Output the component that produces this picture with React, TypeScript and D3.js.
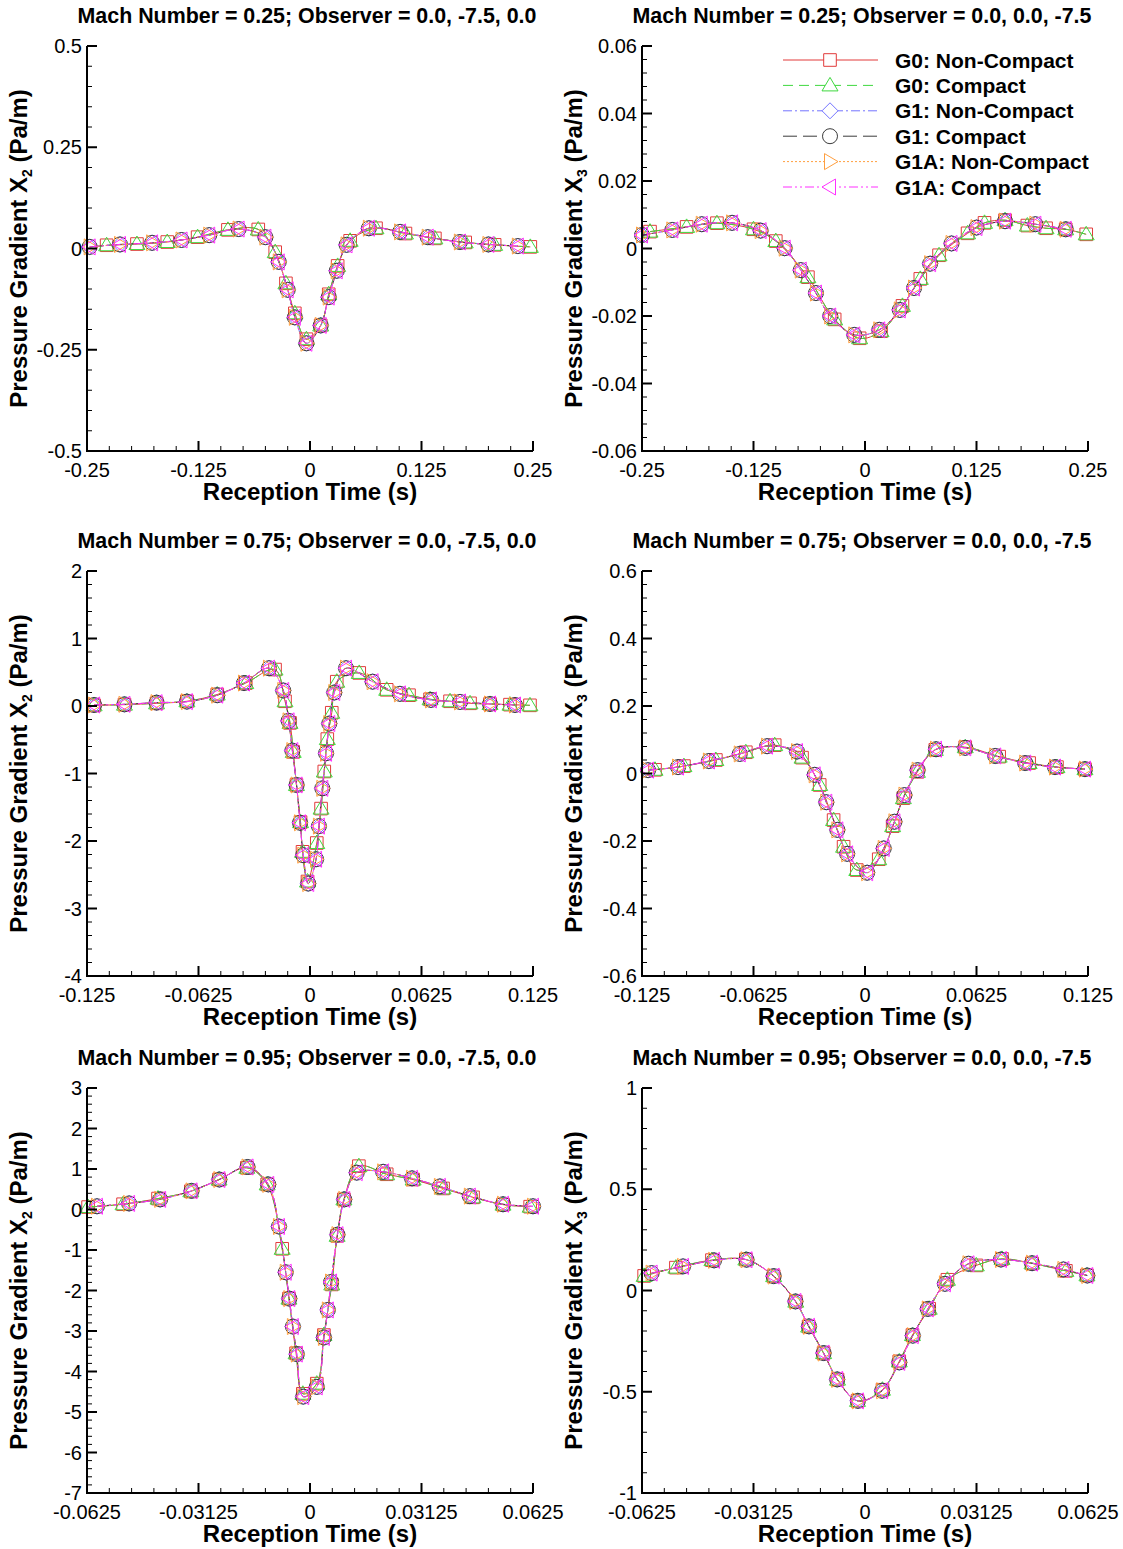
import React from 'react';
import * as d3 from 'd3';

const FONT = '"Liberation Sans", Arial, Helvetica, sans-serif';

// ---------- series styling ----------
const seriesNames = ['G0: Non-Compact', 'G0: Compact', 'G1: Non-Compact', 'G1: Compact', 'G1A: Non-Compact', 'G1A: Compact'];
const seriesColors = ['#e23b3b', '#3fd83f', '#7474ff', '#3a3a3a', '#ff9f40', '#ff30ff'];
const seriesDash = ['', '10 6', '9 3 2 3', '14 6', '2 2', '9 3 2 3 2 3'];
const seriesSymbols = ['square', 'triangle', 'diamond', 'circle', 'triRight', 'triLeft'];
const seriesGrid = [0, 0, 1, 1, 1, 1]; // 0 -> G0 point set, 1 -> G1 point set

// ---------- panel texts ----------
const panelTitles = [
  'Mach Number = 0.25; Observer = 0.0, -7.5, 0.0',
  'Mach Number = 0.25; Observer = 0.0, 0.0, -7.5',
  'Mach Number = 0.75; Observer = 0.0, -7.5, 0.0',
  'Mach Number = 0.75; Observer = 0.0, 0.0, -7.5',
  'Mach Number = 0.95; Observer = 0.0, -7.5, 0.0',
  'Mach Number = 0.95; Observer = 0.0, 0.0, -7.5',
];
const yLabelSub = ['2', '3', '2', '3', '2', '3'];

// ---------- ticks ----------
const xTicksRow1 = [-0.25, -0.125, 0, 0.125, 0.25];
const xTickLabelsRow1 = ['-0.25', '-0.125', '0', '0.125', '0.25'];
const xTicksRow2 = [-0.125, -0.0625, 0, 0.0625, 0.125];
const xTickLabelsRow2 = ['-0.125', '-0.0625', '0', '0.0625', '0.125'];
const xTicksRow3 = [-0.0625, -0.03125, 0, 0.03125, 0.0625];
const xTickLabelsRow3 = ['-0.0625', '-0.03125', '0', '0.03125', '0.0625'];

const yTicksP1 = [-0.5, -0.25, 0, 0.25, 0.5];
const yTickLabelsP1 = ['-0.5', '-0.25', '0', '0.25', '0.5'];
const yTicksP2 = [-0.06, -0.04, -0.02, 0, 0.02, 0.04, 0.06];
const yTickLabelsP2 = ['-0.06', '-0.04', '-0.02', '0', '0.02', '0.04', '0.06'];
const yTicksP3 = [-4, -3, -2, -1, 0, 1, 2];
const yTickLabelsP3 = ['-4', '-3', '-2', '-1', '0', '1', '2'];
const yTicksP4 = [-0.6, -0.4, -0.2, 0, 0.2, 0.4, 0.6];
const yTickLabelsP4 = ['-0.6', '-0.4', '-0.2', '0', '0.2', '0.4', '0.6'];
const yTicksP5 = [-7, -6, -5, -4, -3, -2, -1, 0, 1, 2, 3];
const yTickLabelsP5 = ['-7', '-6', '-5', '-4', '-3', '-2', '-1', '0', '1', '2', '3'];
const yTicksP6 = [-1, -0.5, 0, 0.5, 1];
const yTickLabelsP6 = ['-1', '-0.5', '0', '0.5', '1'];

// ---------- data (time s, pressure gradient Pa/m) ----------
// Panel 1: M=0.25, X2
const p1T1 = [-0.247, -0.213, -0.177, -0.144, -0.113, -0.080, -0.050, -0.035, -0.025, -0.017, -0.004, 0.012, 0.021, 0.030, 0.041, 0.066, 0.101, 0.132, 0.168, 0.200, 0.233];
const p1V1 = [0.004, 0.010, 0.014, 0.021, 0.033, 0.048, 0.028, -0.033, -0.102, -0.170, -0.234, -0.190, -0.120, -0.055, 0.009, 0.050, 0.041, 0.028, 0.016, 0.010, 0.006];
const p1T0 = [-0.228, -0.194, -0.160, -0.126, -0.092, -0.058, -0.039, -0.027, -0.017, -0.004, 0.012, 0.021, 0.031, 0.045, 0.074, 0.107, 0.140, 0.174, 0.207, 0.247];
const p1V0 = [0.008, 0.011, 0.016, 0.028, 0.046, 0.047, -0.009, -0.086, -0.160, -0.224, -0.190, -0.113, -0.043, 0.019, 0.050, 0.037, 0.025, 0.015, 0.009, 0.004];

// Panel 2: M=0.25, X3
const p2T1 = [-0.250, -0.216, -0.183, -0.149, -0.117, -0.090, -0.072, -0.055, -0.039, -0.012, 0.016, 0.039, 0.055, 0.073, 0.097, 0.125, 0.157, 0.191, 0.225];
const p2V1 = [0.0040, 0.0055, 0.0072, 0.0076, 0.0053, 0.0001, -0.0064, -0.0132, -0.0200, -0.0256, -0.0241, -0.0182, -0.0117, -0.0045, 0.0015, 0.0062, 0.0081, 0.0072, 0.0057];
const p2T0 = [-0.241, -0.200, -0.166, -0.125, -0.100, -0.064, -0.034, -0.006, 0.018, 0.042, 0.062, 0.083, 0.115, 0.134, 0.157, 0.182, 0.203, 0.225, 0.248];
const p2V0 = [0.0050, 0.0064, 0.0075, 0.0057, 0.0022, -0.0085, -0.0210, -0.0266, -0.0245, -0.0170, -0.0090, -0.0020, 0.0045, 0.0076, 0.0084, 0.0068, 0.0060, 0.0057, 0.0042];

// Panel 3: M=0.75, X2
const p3T1 = [-0.121, -0.104, -0.086, -0.069, -0.052, -0.037, -0.023, -0.015, -0.012, -0.0099, -0.0075, -0.0056, -0.0038, -0.0010, 0.0034, 0.0050, 0.0069, 0.0090, 0.0108, 0.0136, 0.0202, 0.0351, 0.0504, 0.0678, 0.0841, 0.1009, 0.1149];
const p3V1 = [0.015, 0.025, 0.05, 0.065, 0.16, 0.34, 0.56, 0.23, -0.22, -0.66, -1.17, -1.73, -2.21, -2.63, -2.27, -1.78, -1.22, -0.70, -0.26, 0.20, 0.56, 0.36, 0.18, 0.09, 0.06, 0.03, 0.015];
const p3T0 = [-0.121, -0.104, -0.086, -0.069, -0.052, -0.036, -0.0196, -0.014, -0.0112, -0.0094, -0.0076, -0.0053, -0.0042, -0.0014, 0.0038, 0.0062, 0.0080, 0.0097, 0.0122, 0.0150, 0.0276, 0.0430, 0.0555, 0.0673, 0.0785, 0.0897, 0.1009, 0.1121, 0.1233];
const p3V0 = [0.01, 0.02, 0.04, 0.07, 0.17, 0.34, 0.54, 0.07, -0.25, -0.68, -1.17, -1.72, -2.16, -2.60, -2.03, -1.52, -0.97, -0.49, -0.10, 0.36, 0.49, 0.24, 0.16, 0.10, 0.07, 0.04, 0.03, 0.02, 0.01];

// Panel 4: M=0.75, X3
const p4T1 = [-0.1216, -0.1048, -0.0875, -0.0702, -0.0549, -0.0381, -0.0282, -0.0217, -0.0155, -0.0100, 0.0012, 0.0105, 0.0165, 0.0221, 0.0295, 0.0398, 0.0562, 0.0730, 0.0898, 0.1065, 0.1233];
const p4V1 = [0.010, 0.019, 0.037, 0.058, 0.081, 0.065, -0.004, -0.085, -0.167, -0.238, -0.294, -0.222, -0.143, -0.064, 0.010, 0.072, 0.076, 0.052, 0.031, 0.019, 0.013];
const p4T0 = [-0.1177, -0.1015, -0.0836, -0.0668, -0.0506, -0.0353, -0.0254, -0.0176, -0.0120, -0.0046, 0.0077, 0.0155, 0.0215, 0.0294, 0.0394, 0.0562, 0.0752, 0.0920, 0.1076, 0.1233];
const p4V0 = [0.011, 0.022, 0.040, 0.063, 0.084, 0.047, -0.034, -0.138, -0.217, -0.286, -0.254, -0.156, -0.073, 0.005, 0.070, 0.078, 0.050, 0.031, 0.019, 0.013];

// Panel 5: M=0.95, X2
const p5T1 = [-0.0597, -0.0507, -0.0420, -0.0332, -0.0254, -0.0175, -0.0117, -0.0087, -0.0068, -0.0058, -0.0048, -0.0037, -0.0019, 0.0019, 0.0039, 0.0050, 0.0059, 0.0077, 0.0096, 0.0131, 0.0205, 0.0286, 0.0364, 0.0448, 0.0541, 0.0625];
const p5V1 = [0.08, 0.15, 0.25, 0.46, 0.74, 1.05, 0.62, -0.42, -1.55, -2.20, -2.89, -3.57, -4.62, -4.38, -3.16, -2.48, -1.79, -0.62, 0.25, 0.91, 0.93, 0.77, 0.57, 0.33, 0.13, 0.08];
const p5T0 = [-0.0622, -0.0524, -0.0426, -0.0334, -0.0255, -0.0177, -0.0120, -0.0078, -0.0059, -0.0039, -0.0020, 0.0019, 0.0039, 0.0061, 0.0076, 0.0095, 0.0137, 0.0215, 0.0289, 0.0373, 0.0457, 0.0541, 0.0617];
const p5V0 = [0.06, 0.13, 0.27, 0.45, 0.74, 1.03, 0.62, -0.97, -2.20, -3.55, -4.55, -4.30, -3.10, -1.85, -0.65, 0.25, 1.07, 0.87, 0.74, 0.52, 0.30, 0.12, 0.07];

// Panel 6: M=0.95, X3
const p6T1 = [-0.0598, -0.0510, -0.0423, -0.0332, -0.0256, -0.0195, -0.0157, -0.0116, -0.0078, -0.0020, 0.0048, 0.0096, 0.0134, 0.0176, 0.0224, 0.0290, 0.0381, 0.0468, 0.0556, 0.0623];
const p6V1 = [0.086, 0.119, 0.149, 0.152, 0.071, -0.054, -0.177, -0.309, -0.439, -0.545, -0.495, -0.355, -0.223, -0.091, 0.033, 0.132, 0.153, 0.135, 0.104, 0.074];
const p6T0 = [-0.0619, -0.0530, -0.0429, -0.0334, -0.0256, -0.0194, -0.0158, -0.0116, -0.0077, -0.0021, 0.0049, 0.0096, 0.0133, 0.0180, 0.0231, 0.0312, 0.0384, 0.0468, 0.0563, 0.0622];
const p6V0 = [0.072, 0.113, 0.150, 0.153, 0.071, -0.055, -0.178, -0.309, -0.440, -0.545, -0.490, -0.350, -0.220, -0.090, 0.053, 0.124, 0.156, 0.134, 0.097, 0.075];

const zip = (t: number[], v: number[]) => t.map((x, i) => [x, v[i]] as [number, number]);

const panels = [
  { xd: [-0.25, 0.25], yd: [-0.5, 0.5], xt: xTicksRow1, xl: xTickLabelsRow1, yt: yTicksP1, yl: yTickLabelsP1, g0: zip(p1T0, p1V0), g1: zip(p1T1, p1V1) },
  { xd: [-0.25, 0.25], yd: [-0.06, 0.06], xt: xTicksRow1, xl: xTickLabelsRow1, yt: yTicksP2, yl: yTickLabelsP2, g0: zip(p2T0, p2V0), g1: zip(p2T1, p2V1) },
  { xd: [-0.125, 0.125], yd: [-4, 2], xt: xTicksRow2, xl: xTickLabelsRow2, yt: yTicksP3, yl: yTickLabelsP3, g0: zip(p3T0, p3V0), g1: zip(p3T1, p3V1) },
  { xd: [-0.125, 0.125], yd: [-0.6, 0.6], xt: xTicksRow2, xl: xTickLabelsRow2, yt: yTicksP4, yl: yTickLabelsP4, g0: zip(p4T0, p4V0), g1: zip(p4T1, p4V1) },
  { xd: [-0.0625, 0.0625], yd: [-7, 3], xt: xTicksRow3, xl: xTickLabelsRow3, yt: yTicksP5, yl: yTickLabelsP5, g0: zip(p5T0, p5V0), g1: zip(p5T1, p5V1) },
  { xd: [-0.0625, 0.0625], yd: [-1, 1], xt: xTicksRow3, xl: xTickLabelsRow3, yt: yTicksP6, yl: yTickLabelsP6, g0: zip(p6T0, p6V0), g1: zip(p6T1, p6V1) },
];

// ---------- layout ----------
const colLeft = [87, 642];
const rowTop = [46, 571, 1088];
const plotW = 446;
const plotH = 405;

function symbolPath(kind: string, cx: number, cy: number): string {
  switch (kind) {
    case 'square':
      return `M${cx - 6.3},${cy - 6.3}h12.6v12.6h-12.6Z`;
    case 'triangle':
      return `M${cx},${cy - 8}L${cx + 8},${cy + 5.5}L${cx - 8},${cy + 5.5}Z`;
    case 'diamond':
      return `M${cx},${cy - 8}L${cx + 8},${cy}L${cx},${cy + 8}L${cx - 8},${cy}Z`;
    case 'triRight':
      return `M${cx + 8},${cy}L${cx - 5.5},${cy - 8}L${cx - 5.5},${cy + 8}Z`;
    case 'triLeft':
      return `M${cx - 8},${cy}L${cx + 5.5},${cy - 8}L${cx + 5.5},${cy + 8}Z`;
    default:
      return `M${cx + 7.5},${cy}A7.5,7.5 0 1,1 ${cx - 7.5},${cy}A7.5,7.5 0 1,1 ${cx + 7.5},${cy}Z`;
  }
}

function minorTicks(major: number[]): number[] {
  const out: number[] = [];
  for (let i = 0; i < major.length - 1; i++) {
    const a = major[i];
    const b = major[i + 1];
    for (let k = 1; k < 5; k++) out.push(a + ((b - a) * k) / 5);
  }
  return out;
}

function Panel({ idx }: { idx: number }) {
  const p = panels[idx];
  const col = idx % 2;
  const row = Math.floor(idx / 2);
  const left = colLeft[col];
  const top = rowTop[row];
  const x = d3.scaleLinear().domain(p.xd).range([left, left + plotW]);
  const y = d3.scaleLinear().domain(p.yd).range([top + plotH, top]);
  const line = d3
    .line<[number, number]>()
    .x((d) => x(d[0]))
    .y((d) => y(d[1]))
    .curve(d3.curveCatmullRom.alpha(0.5));
  const bottom = top + plotH;
  const cx = left + plotW / 2;
  const clipId = `clip${idx}`;
  return (
    <g>
      <defs>
        <clipPath id={clipId}>
          <rect x={left} y={top - 2} width={plotW + 2} height={plotH + 4} />
        </clipPath>
      </defs>
      {/* title */}
      <text x={cx - 3} y={top - 23} textAnchor="middle" fontFamily={FONT} fontWeight="bold" fontSize={21.4}>
        {panelTitles[idx]}
      </text>
      {/* series */}
      {seriesNames.map((name, si) => {
        const pts = seriesGrid[si] === 0 ? p.g0 : p.g1;
        return (
          <g key={name}>
            <path
              d={line(pts) || ''}
              fill="none"
              stroke={seriesColors[si]}
              strokeWidth={1}
              strokeDasharray={seriesDash[si] || undefined}
              clipPath={`url(#${clipId})`}
            />
            {pts.map((d, k) => (
              <path key={k} d={symbolPath(seriesSymbols[si], x(d[0]), y(d[1]))} fill="none" stroke={seriesColors[si]} strokeWidth={1} />
            ))}
          </g>
        );
      })}
      {/* axes */}
      {minorTicks(p.xt).map((t, k) => (
        <line key={'xm' + k} x1={x(t)} x2={x(t)} y1={bottom} y2={bottom - 5} stroke="#000" strokeWidth={1} />
      ))}
      {p.xt.map((t, k) => (
        <line key={'xM' + k} x1={x(t)} x2={x(t)} y1={bottom} y2={bottom - 10} stroke="#000" strokeWidth={2} />
      ))}
      {minorTicks(p.yt).map((t, k) => (
        <line key={'ym' + k} x1={left} x2={left + 5} y1={y(t)} y2={y(t)} stroke="#000" strokeWidth={1} />
      ))}
      {p.yt.map((t, k) => (
        <line key={'yM' + k} x1={left} x2={left + 10} y1={y(t)} y2={y(t)} stroke="#000" strokeWidth={2} />
      ))}
      <path d={`M${left},${top}V${bottom}H${left + plotW}`} fill="none" stroke="#000" strokeWidth={2} />
      {p.xt.map((t, k) => (
        <text key={'xl' + k} x={x(t)} y={bottom + 26} textAnchor="middle" fontFamily={FONT} fontSize={20}>
          {p.xl[k]}
        </text>
      ))}
      {p.yt.map((t, k) => (
        <text key={'yl' + k} x={left - 5} y={y(t) + 7} textAnchor="end" fontFamily={FONT} fontSize={20}>
          {p.yl[k]}
        </text>
      ))}
      <text x={cx} y={bottom + 49} textAnchor="middle" fontFamily={FONT} fontWeight="bold" fontSize={24}>
        Reception Time (s)
      </text>
      <text
        transform={`translate(${left - 60},${top + plotH / 2}) rotate(-90)`}
        textAnchor="middle"
        fontFamily={FONT}
        fontWeight="bold"
        fontSize={24}
      >
        Pressure Gradient X
        <tspan fontSize={14} dy={5}>
          {yLabelSub[idx]}
        </tspan>
        <tspan dy={-5}> (Pa/m)</tspan>
      </text>
    </g>
  );
}

function Legend() {
  const lx0 = 783;
  const lx1 = 878;
  const mx = 830;
  const tx = 895;
  const y0 = 60;
  const dy = 25.4;
  return (
    <g>
      {seriesNames.map((name, si) => {
        const yy = y0 + si * dy;
        return (
          <g key={name}>
            <line x1={lx0} x2={lx1} y1={yy} y2={yy} stroke={seriesColors[si]} strokeWidth={1} strokeDasharray={seriesDash[si] || undefined} />
            <path d={symbolPath(seriesSymbols[si], mx, yy)} fill="#fff" stroke={seriesColors[si]} strokeWidth={1} />
            <text x={tx} y={yy + 7.5} fontFamily={FONT} fontWeight="bold" fontSize={21}>
              {name}
            </text>
          </g>
        );
      })}
    </g>
  );
}

export default function App() {
  return (
    <svg
      width={1123}
      height={1549}
      viewBox="0 0 1123 1549"
      style={{ position: 'absolute', left: 0, top: 0, background: '#fff' }}
    >
      <rect x={0} y={0} width={1123} height={1549} fill="#fff" />
      {panels.map((_, i) => (
        <Panel key={i} idx={i} />
      ))}
      <Legend />
    </svg>
  );
}
